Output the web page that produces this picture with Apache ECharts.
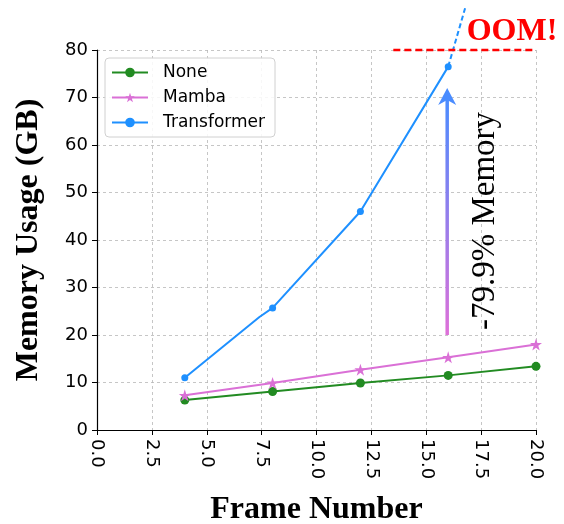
<!DOCTYPE html>
<html>
<head>
<meta charset="utf-8">
<script src="https://cdn.jsdelivr.net/npm/echarts@6/dist/echarts.min.js"></script>
<style>html,body{margin:0;padding:0;background:#fff}#c{width:564px;height:524px}</style>
</head>
<body>
<div id="c"></div>
<script>
// ---- data ----
const frames = [4, 8, 12, 16, 20];
const noneVals = [6.3, 8.1, 9.9, 11.5, 13.4];
const mambaVals = [7.3, 9.9, 12.7, 15.3, 18.0];
const transformerFrames = [4, 7.4, 8, 12, 16];
const transformerVals = [11.0, 23.8, 25.7, 46.0, 76.5];
const transformerMarked = [true, false, true, true, true];
const oomExtFrames = [16, 16.77];
const oomExtVals = [76.5, 88.8];
const oomLineFrames = [13.5, 20];
const oomLineVals = [80, 80];
const arrowFrame = 16;
const arrowFrom = 20;
const arrowTo = 72;
const xTicks = [0, 2.5, 5, 7.5, 10, 12.5, 15, 17.5, 20];
const yTicks = [0, 10, 20, 30, 40, 50, 60, 70, 80];

const chart = echarts.init(document.getElementById('c'));
const tickFont = 'DejaVu Sans';
const serif = '"Liberation Serif", "Times New Roman", serif';

const zip = (xs, ys) => xs.map((x, i) => [x, ys[i]]);

const option = {
  animation: false,
  grid: { left: 97, right: 28, top: 50, bottom: 94, containLabel: false, outerBoundsMode: 'none' },
  legend: {
    orient: 'vertical',
    left: 105, top: 58,
    data: ['None', 'Mamba', 'Transformer'],
    itemWidth: 36, itemHeight: 12, itemGap: 8,
    padding: [6, 10, 6, 6],
    borderColor: '#d0d0d0', borderWidth: 1, borderRadius: 4,
    backgroundColor: 'rgba(255,255,255,0.85)',
    textStyle: { fontFamily: tickFont, fontSize: 17, color: '#000', padding: [0, 0, 0, 10] }
  },
  xAxis: {
    type: 'value', min: 0, max: 20, interval: 2.5,
    name: 'Frame Number', nameLocation: 'middle', nameGap: 64,
    nameTextStyle: { fontFamily: serif, fontWeight: 'bold', fontSize: 32, color: '#000' },
    axisLine: { show: true, onZero: false, lineStyle: { color: '#000', width: 1.2 } },
    axisTick: { show: true, length: 5, lineStyle: { color: '#000' } },
    axisLabel: {
      rotate: -90, margin: 9, fontFamily: tickFont, fontSize: 18, color: '#000',
      formatter: v => xTicks.includes(v) ? v.toFixed(1) : ''
    },
    splitLine: { show: true, lineStyle: { color: '#b8b8b8', type: [3, 3], width: 0.8 } }
  },
  yAxis: {
    type: 'value', min: 0, max: 80, interval: 10,
    name: 'Memory Usage (GB)', nameLocation: 'middle', nameGap: 52,
    nameTextStyle: { fontFamily: serif, fontWeight: 'bold', fontSize: 32, color: '#000' },
    axisLine: { show: true, lineStyle: { color: '#000', width: 1.2 } },
    axisTick: { show: true, length: 5, lineStyle: { color: '#000' } },
    axisLabel: {
      margin: 9, fontFamily: tickFont, fontSize: 18, color: '#000',
      formatter: v => yTicks.includes(v) ? String(v) : ''
    },
    splitLine: { show: true, lineStyle: { color: '#b8b8b8', type: [3, 3], width: 0.8 } }
  },
  series: [
    {
      name: 'None', type: 'line', data: zip(frames, noneVals),
      color: '#228b22', symbol: 'circle', symbolSize: 9,
      lineStyle: { width: 2 }, z: 3
    },
    {
      name: 'Mamba', type: 'line', data: zip(frames, mambaVals),
      color: '#da70d6', symbol: 'path://M50,0 L61.8,35.4 L100,35.4 L69.1,57.3 L80.9,93.3 L50,71.3 L19.1,93.3 L30.9,57.3 L0,35.4 L38.2,35.4 Z',
      symbolSize: 12, lineStyle: { width: 2 }, z: 3
    },
    {
      name: 'Transformer', type: 'line',
      data: transformerFrames.map((x, i) => transformerMarked[i]
        ? [x, transformerVals[i]]
        : { value: [x, transformerVals[i]], symbol: 'none' }),
      color: '#1e90ff', symbol: 'circle', symbolSize: 7,
      lineStyle: { width: 2 }, z: 3
    },
    {
      name: 'ext', type: 'line', data: zip(oomExtFrames, oomExtVals),
      color: '#1e90ff', symbol: 'none', clip: false,
      lineStyle: { width: 2, type: [5, 3] }, z: 2
    },
    {
      name: 'oom', type: 'line', data: zip(oomLineFrames, oomLineVals),
      color: '#ff0000', symbol: 'none', clip: false,
      lineStyle: { width: 2.5, type: [7, 4] }, z: 2
    }
  ]
};
chart.setOption(option);

const arrowTop = chart.convertToPixel({ gridIndex: 0 }, [arrowFrame, arrowTo]);
const arrowBot = chart.convertToPixel({ gridIndex: 0 }, [arrowFrame, arrowFrom]);
const ax = arrowTop[0] - 1;
chart.setOption({
  graphic: [
    {
      type: 'line', z: 10,
      shape: { x1: ax, y1: arrowBot[1], x2: ax, y2: arrowTop[1] + 12 },
      style: {
        lineWidth: 3.5,
        stroke: new echarts.graphic.LinearGradient(0, 1, 0, 0, [
          { offset: 0, color: '#e070d8' },
          { offset: 1, color: '#4a8cff' }
        ])
      }
    },
    {
      type: 'polygon', z: 11,
      shape: { points: [[ax, arrowTop[1]], [ax - 9, arrowTop[1] + 17], [ax, arrowTop[1] + 12], [ax + 9, arrowTop[1] + 17]] },
      style: { fill: '#4a8cff' }
    },
    {
      type: 'text', z: 10,
      x: ax + 38, y: 221, rotation: Math.PI / 2,
      style: {
        text: '-79.9% Memory', font: '33px "Liberation Serif", serif',
        fill: '#000', align: 'center', verticalAlign: 'middle'
      }
    },
    {
      type: 'text', z: 10,
      x: 512, y: 32,
      style: {
        text: 'OOM!', font: 'bold 32px "Liberation Serif", serif',
        fill: '#ff0000', align: 'center', verticalAlign: 'middle'
      }
    }
  ]
});
</script>
</body>
</html>
